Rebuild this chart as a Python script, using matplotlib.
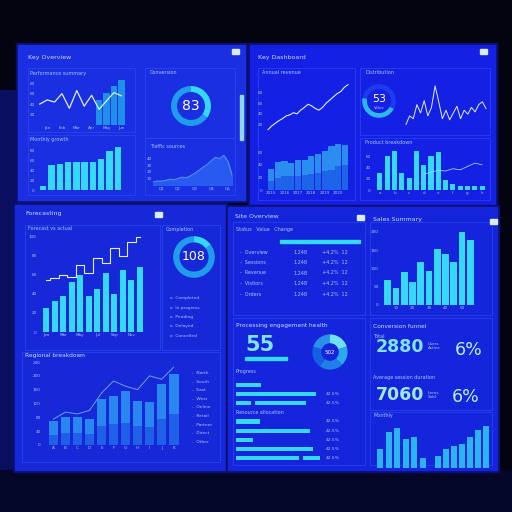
"""Wall of four blue analytics dashboards, redrawn with matplotlib."""

import matplotlib.pyplot as plt
from matplotlib.patches import Rectangle

W = 512

# ---- panel A (top left) ----
a_line = [40, 48, 44, 60, 32, 66, 36, 57, 30, 46, 62, 56]
a_bar_idx = [8, 9, 10, 11]
a_bars = [48, 62, 74, 86]
a_cols = [8, 50, 53, 56, 56, 56, 56, 63, 78, 86]
a_donut = [35, 65]
a_area = [5, 6, 6, 7, 9, 8, 10, 12, 11, 14, 18, 22, 27, 31, 37, 42, 40, 45, 36, 15]

# ---- panel B (top right) ----
b_line = [10, 17, 22, 27, 31, 36, 38, 42, 40, 47, 52, 58, 55, 50, 47, 52, 60, 66,
          72, 78, 82, 90, 95]
b_stack_top = [33, 45, 46, 43, 48, 48, 55, 58, 63, 70, 73, 72]
b_stack_low = [15, 20, 22, 22, 22, 24, 25, 28, 30, 32, 38, 40]
b_gauge = [55, 45]
b_wave = [20, 35, 30, 55, 40, 62, 35, 50, 88, 60, 30, 45, 28, 40, 52, 30, 45, 38,
          50, 42, 55, 60, 48]
b_cols = [30, 60, 70, 30, 22, 70, 45, 60, 68, 18, 10, 8, 8, 8, 7]
b_trend = [28, 32, 35, 34, 38, 36, 42, 48, 45]

# ---- panel C (bottom left) ----
c_cols = [25, 33, 38, 52, 60, 38, 45, 62, 40, 65, 55, 68]
c_step = [55, 57, 60, 58, 70, 62, 78, 72, 88, 80, 95, 100]
c_donut = [15, 85]
c_low = [70, 80, 80, 75, 133, 143, 157, 127, 123, 175, 205]
c_high = [30, 35, 35, 33, 55, 60, 65, 55, 52, 75, 90]
c_trend = [75, 95, 90, 100, 150, 185, 170, 160, 200, 190, 225]
c_legend = ["North", "South", "East", "West", "Online", "Retail", "Partner",
            "Direct", "Other"]

# ---- panel D (bottom right) ----
d_table = ["Overview", "Sessions", "Revenue", "Visitors", "Orders"]
d_donut = [20, 18, 22, 20, 20]
d_hbars = [[30, 0], [95, 0], [18, 60], [28, 0], [88, 0], [20, 0], [92, 0], [75, 20]]
d_hrows = [0, 1, 2, 4, 5, 6, 7, 8]
d_cols = [67, 47, 90, 63, 117, 93, 153, 140, 117, 200, 178]
d_small1 = [20, 38, 42, 30, 32, 10]
d_small2 = [18, 28, 32, 35, 45, 55, 60]

CYAN = "#35d8f6"
MID = "#1f9cec"
LINE = "#dcefff"
TXT = "#a8c6ff"

fig = plt.figure(figsize=(5.12, 5.12), dpi=100)
fig.patch.set_facecolor("#03040f")

bg = fig.add_axes([0, 0, 1, 1])
bg.set_xlim(0, W)
bg.set_ylim(W, 0)
bg.axis("off")
bg.add_patch(Rectangle((0, 90), 18, 390, color="#0a0f60"))
bg.add_patch(Rectangle((0, 470), W, 42, color="#05072a"))
panels = [(18, 45, 245, 200, "#1a2ee2"), (250, 45, 495, 205, "#1420e4"),
          (15, 205, 225, 470, "#1628d8"), (228, 207, 497, 470, "#1525dc")]
for x0, y0, x1, y1, c in panels:
    bg.add_patch(Rectangle((x0 - 2, y0 - 2), x1 - x0 + 4, y1 - y0 + 4,
                           color="#0a0f70"))
    bg.add_patch(Rectangle((x0, y0), x1 - x0, y1 - y0, color=c))
# inner cards
for x0, y0, x1, y1 in [(28, 68, 135, 132), (145, 68, 235, 138), (28, 135, 135, 195),
                       (145, 138, 235, 195), (258, 68, 355, 200), (360, 68, 490, 135),
                       (360, 138, 490, 200), (25, 225, 160, 350), (162, 225, 220, 350),
                       (22, 352, 220, 462), (233, 222, 365, 315), (233, 318, 365, 465),
                       (370, 222, 492, 315), (370, 318, 492, 410), (370, 412, 492, 465)]:
    bg.add_patch(Rectangle((x0, y0), x1 - x0, y1 - y0, fill=False,
                           ec="#2a48f2", lw=0.5))

def txt(x, y, s, size=3.5, color=TXT, **kw):
    bg.text(x, y, s, fontsize=size, color=color, va="center", **kw)

txt(28, 57, "Key Overview", 4.5, "#c8dcff")
txt(258, 57, "Key Dashboard", 4.5, "#c8dcff")
txt(25, 214, "Forecasting", 4.5, "#c8dcff")
txt(235, 216, "Site Overview", 4.5, "#c8dcff")
txt(373, 219, "Sales Summary", 4.5, "#c8dcff")
for x, y in [(232, 52), (480, 52), (155, 215), (357, 218), (490, 222)]:
    bg.add_patch(Rectangle((x, y - 3), 7, 5, color="#d8ecff"))
txt(30, 73, "Performance summary")
txt(30, 140, "Monthly growth")
txt(150, 73, "Conversion")
txt(150, 147, "Traffic sources")
txt(262, 73, "Annual revenue")
txt(365, 73, "Distribution")
txt(365, 142, "Product breakdown")
txt(28, 228, "Forecast vs actual")
txt(166, 230, "Completion")
txt(25, 355, "Regional breakdown", 4.2, "#c8dcff")
txt(236, 230, "Status   Value   Change")
txt(236, 326, "Processing engagement health", 4.2, "#c8dcff")
txt(236, 372, "Progress")
txt(236, 412, "Resource allocation")
txt(373, 326, "Conversion funnel", 4.2, "#c8dcff")
txt(373, 336, "Total")
txt(373, 378, "Average session duration")
txt(373, 415, "Monthly")

# big numbers
txt(245, 345, "55", 15, "#7fe4ff", fontweight="bold")
txt(376, 347, "2880", 12.5, "#7fe4ff", fontweight="bold")
txt(455, 350, "6%", 12.5, "#b8f0ff")
txt(376, 395, "7060", 12.5, "#9fe8ff", fontweight="bold")
txt(452, 397, "6%", 12.5, "#b8f0ff")
txt(428, 346, "Users\nActive", 3)
txt(428, 395, "Items\nSold", 3)

# table rows in panel D
bg.add_patch(Rectangle((280, 240), 80, 2.5, color=CYAN))
for i, name in enumerate(d_table):
    y = 252 + i * 10.5
    txt(240, y, "-  " + name)
    txt(293, y, "1,248")
    txt(322, y, "+4.2%  12")

# scrollbar
bg.add_patch(Rectangle((240, 95), 2.5, 45, color="#8fd8ff"))


def add_ax(x0, y0, x1, y1):
    ax = fig.add_axes([x0 / W, 1 - y1 / W, (x1 - x0) / W, (y1 - y0) / W])
    ax.set_facecolor("none")
    for s in ax.spines.values():
        s.set_visible(False)
    ax.tick_params(colors=TXT, labelsize=3, length=0, pad=1)
    return ax


def donut(cx, cy, r, vals, colors, width, start, label, size, dy=0.0):
    ax = add_ax(cx - r, cy - r, cx + r, cy + r)
    ax.pie(vals, colors=colors, startangle=start, counterclock=False,
           wedgeprops=dict(width=width, edgecolor="none"))
    ax.set_aspect("equal")
    ax.text(0, dy, label, ha="center", va="center", color="white", fontsize=size)
    return ax


# A1: line with bars
ax = add_ax(36, 78, 125, 125)
x = list(range(len(a_line)))
ax.bar(a_bar_idx, a_bars, width=0.9, color=MID, alpha=0.9)
ax.plot(x, a_line, color=LINE, lw=0.9)
ax.set_xlim(-0.5, 11.5)
ax.set_ylim(0, 90)
ax.set_yticks([20, 40, 60, 80])
ax.set_xticks([1, 3, 5, 7, 9, 11])
ax.set_xticklabels(["Jan", "Feb", "Mar", "Apr", "May", "Jun"])

# A2: columns
ax = add_ax(36, 145, 125, 190)
ax.bar(range(len(a_cols)), a_cols, width=0.78, color=CYAN)
ax.set_ylim(0, 90)
ax.set_yticks([0, 20, 40, 60, 80])
ax.set_xticks([])

# A3: donut
donut(191, 106, 25, a_donut, [CYAN, MID], 0.3, 90, "83", 10)

# A4: area
ax = add_ax(153, 152, 232, 185)
ax.fill_between(range(len(a_area)), a_area, color="#2a60f4", alpha=0.9)
ax.plot(range(len(a_area)), a_area, color="#5a9cff", lw=0.6)
ax.set_ylim(0, 50)
ax.set_xlim(0, len(a_area) - 1)
ax.set_yticks([10, 20, 30, 40])
ax.set_xticks([2, 6, 10, 14, 18])
ax.set_xticklabels(["Q1", "Q2", "Q3", "Q4", "Q5"])

# B1: rising line
ax = add_ax(264, 82, 352, 135)
ax.plot(range(len(b_line)), b_line, color=LINE, lw=0.8)
ax.set_ylim(0, 100)
ax.set_yticks([20, 40, 60, 80])
ax.set_xticks([])

# B2: stacked columns
ax = add_ax(264, 140, 352, 190)
n = range(len(b_stack_top))
ax.bar(n, b_stack_top, width=0.92, color="#2a8ef0")
ax.bar(n, b_stack_low, width=0.92, color="#1e64e8")
ax.set_ylim(0, 80)
ax.set_yticks([0, 20, 40, 60])
ax.set_xticks([0, 2, 4, 6, 8, 10])
ax.set_xticklabels(["2015", "2016", "2017", "2018", "2019", "2020"])

# B3: gauge
g = donut(379, 101, 21, b_gauge, ["#1c3cf0", "#2bb8f2"], 0.28, 170, "53", 8,
          dy=0.14)
g.text(0, -0.4, "Value", ha="center", va="center", color=TXT, fontsize=2.8)

# B4: wave
ax = add_ax(402, 82, 490, 130)
ax.plot(range(len(b_wave)), b_wave, color=LINE, lw=0.7)
ax.set_ylim(10, 95)
ax.set_xticks([])
ax.set_yticks([])

# B5: columns with trend
ax = add_ax(372, 148, 490, 190)
ax.bar(range(len(b_cols)), b_cols, width=0.7, color=CYAN)
ax.plot(range(6, 15), b_trend, color="#9fd0ff", lw=0.6)
ax.set_ylim(0, 75)
ax.set_yticks([0, 20, 40, 60])
ax.set_xticks(range(0, 15, 2))
ax.set_xticklabels(["a", "b", "c", "d", "e", "f", "g", "h"])

# C1: step line over columns
ax = add_ax(38, 232, 148, 332)
ax.bar(range(len(c_cols)), c_cols, width=0.72, color=CYAN)
ax.step(range(len(c_step)), c_step, where="mid", color=LINE, lw=0.8)
ax.set_ylim(0, 105)
ax.set_yticks([0, 20, 40, 60, 80, 100])
ax.set_xticks(range(0, 12, 2))
ax.set_xticklabels(["Jan", "Mar", "May", "Jul", "Sep", "Nov"])

# C2: donut + legend
donut(194, 257, 26, c_donut, [CYAN, MID], 0.3, 90, "108", 9)
for i, s in enumerate(["Completed", "In progress", "Pending", "Delayed",
                       "Cancelled"]):
    txt(170, 298 + i * 9.5, "o  " + s, 3.2)

# C3: stacked columns with trend
ax = add_ax(42, 362, 185, 445)
n = range(len(c_low))
ax.bar(n, c_low, width=0.82, color="#2a86f0")
ax.bar(n, c_high, width=0.82, color="#1f60e6")
ax.plot(n, c_trend, color="#6aa0ff", lw=0.7)
ax.set_ylim(0, 240)
ax.set_yticks([0, 40, 80, 120, 160, 200, 240])
ax.set_xticks(range(0, 11, 1))
ax.set_xticklabels(["A", "B", "C", "D", "E", "F", "G", "H", "I", "J", "K"])
for i, s in enumerate(c_legend):
    txt(192, 373 + i * 8.6, "-  " + s, 3.2)

# D1: donut
donut(330, 352, 22, d_donut, ["#6fe0f8", "#2aa8f0", "#1e80e8", "#1560e0", "#2a90ec"],
      0.5, 90, "502", 4)
bg.add_patch(Rectangle((245, 357), 42, 2.5, color=CYAN))

# D2: horizontal bars
ax = add_ax(236, 380, 320, 463)
ax.barh(d_hrows, [b[0] for b in d_hbars], height=0.45, color=CYAN)
ax.barh(d_hrows, [b[1] for b in d_hbars], left=[b[0] + 5 for b in d_hbars],
        height=0.45, color=CYAN)
ax.set_xlim(0, 100)
ax.set_ylim(8.5, -0.5)
ax.set_xticks([])
ax.set_yticks([])
for r in d_hrows[1:]:
    txt(326, 380 + (r + 0.5) * 83 / 9, "42.5%", 3.2)

# D3: columns
ax = add_ax(380, 228, 478, 305)
ax.bar(range(len(d_cols)), d_cols, width=0.82, color=CYAN)
ax.set_ylim(0, 210)
ax.set_yticks([0, 50, 100, 150, 200])
ax.set_xticks([1, 3, 5, 7, 9])
ax.set_xticklabels(["10", "20", "30", "40", "50"])

# D4: small columns
ax = add_ax(375, 425, 428, 468)
ax.bar(range(len(d_small1)), d_small1, width=0.7, color="#2ab4f2")
ax.set_ylim(0, 45)
ax.set_xticks([])
ax.set_yticks([])
ax = add_ax(432, 425, 492, 468)
ax.bar(range(len(d_small2)), d_small2, width=0.75, color="#2ab4f2")
ax.set_ylim(0, 62)
ax.set_xticks([])
ax.set_yticks([])

fig.savefig("out.png", dpi=100, facecolor=fig.get_facecolor())
